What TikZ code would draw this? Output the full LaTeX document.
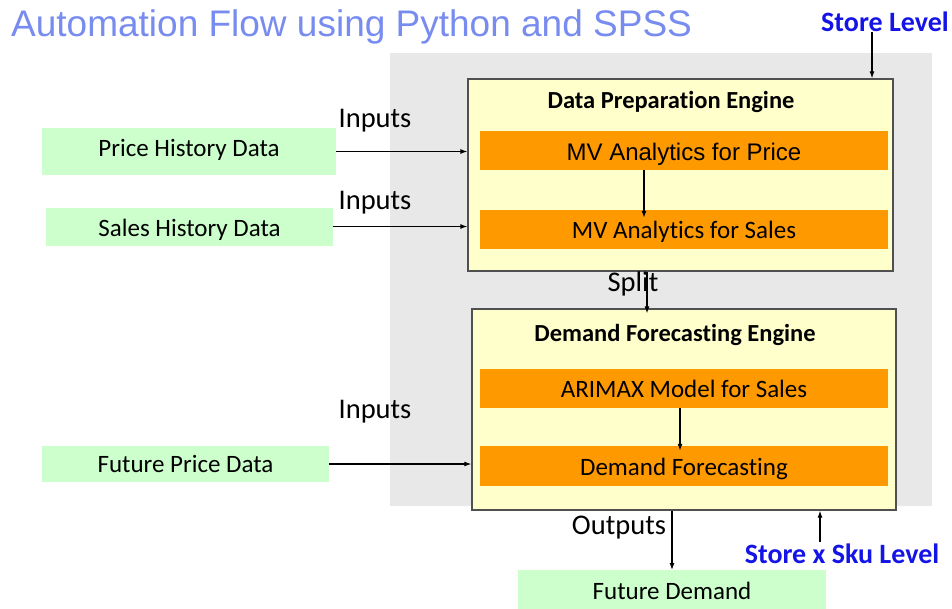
\documentclass[tikz,border=0pt]{standalone}
\usepackage{fontspec}
\setmainfont[Ligatures=NoCommon]{Carlito}
\newfontfamily\arialf{Liberation Sans}
\usetikzlibrary{arrows.meta}
\definecolor{titleblue}{RGB}{120,140,240}
\definecolor{lvlblue}{RGB}{20,20,230}
\definecolor{bggrey}{RGB}{232,232,232}
\definecolor{engyellow}{RGB}{255,255,204}
\definecolor{orangebar}{RGB}{255,153,0}
\definecolor{datagreen}{RGB}{204,255,204}
\definecolor{edgegrey}{RGB}{80,80,80}
\tikzset{
  datanode/.style={fill=datagreen, draw=none, inner sep=0pt, text height=16pt, text depth=0pt, font=\fontsize{25}{29}\selectfont},
  engine/.style={fill=engyellow, draw=edgegrey, line width=1.3pt, inner sep=0pt},
  bar/.style={fill=orangebar, draw=none, inner sep=0pt, minimum width=408pt, minimum height=39pt, text height=18pt, text depth=0pt, font=\fontsize{25}{29}\selectfont},
  lbl/.style={inner sep=0pt, font=\fontsize{25}{29}\selectfont},
  biglbl/.style={inner sep=0pt, font=\fontsize{28.5}{32}\selectfont},
  enginetitle/.style={inner sep=0pt, font=\bfseries\fontsize{24.5}{28}\selectfont},
  level/.style={inner sep=0pt, text=lvlblue, font=\bfseries\fontsize{28}{32}\selectfont},
  arr/.style={-{Latex[length=7pt,width=5pt]}, line width=1.1pt, black}
}
\begin{document}
\begin{tikzpicture}[x=1pt,y=-1pt]
\useasboundingbox (0,0) rectangle (952,608);
% title
\node[anchor=west, inner sep=0pt, text=titleblue, font=\arialf\fontsize{37}{42}\selectfont] (title) at (11,27) {Automation Flow using Python and SPSS};
% grey background
\fill[bggrey] (390,53) rectangle (932,506);
% engines
\node[engine, minimum width=425pt, minimum height=192pt] (dpe) at (680.5,175) {};
\node[enginetitle] (dpet) at (671,102) {Data Preparation Engine};
\node[bar, text height=19pt, font=\arialf\fontsize{24}{28}\selectfont] (mvp) at (684,150.5) {MV Analytics for Price};
\node[bar] (mvs) at (684,229.5) {MV Analytics for Sales};
\node[engine, minimum width=424pt, minimum height=201pt] (dfe) at (684,409.5) {};
\node[enginetitle] (dfet) at (675,335) {Demand Forecasting Engine};
\node[bar] (arx) at (684,388.5) {ARIMAX Model for Sales};
\node[bar, minimum height=40pt] (dfc) at (684,466) {Demand Forecasting};
% data nodes
\node[datanode, text depth=7pt, minimum width=294pt, minimum height=47pt] (phd) at (189,151.5) {Price History Data};
\node[datanode, text height=18pt, minimum width=287pt, minimum height=38pt] (shd) at (189.5,227) {Sales History Data};
\node[datanode, minimum width=287pt, minimum height=36pt] (fpd) at (185.5,464) {Future Price Data};
\node[datanode, minimum width=308pt, minimum height=44pt, anchor=north] (fdm) at (672,570) {};
\node[lbl] (fdmt) at (672,591) {Future Demand};
% labels
\node[biglbl] (in1) at (375,121) {Inputs};
\node[biglbl] (in2) at (375,203) {Inputs};
\node[biglbl] (in3) at (375,412) {Inputs};
\node[biglbl] (split) at (633,284) {Split};
\node[biglbl] (outp) at (619,528) {Outputs};
\node[level] (sl) at (885,22) {Store Level};
\node[level] (ssl) at (842,554) {Store x Sku Level};
% coordinates
\coordinate (xsl) at (872,0);
\coordinate (xsplit) at (647,0);
\coordinate (xout) at (672,0);
\coordinate (xssl) at (820,0);
\coordinate (xmv) at (644,0);
\coordinate (xar) at (680,0);
% connectors
\draw[arr] (phd.east) -- (phd.east -| dpe.west);
\draw[arr] ([yshift=0.5pt]shd.east) -- ([yshift=0.5pt]shd.east -| dpe.west);
\draw[arr] (fpd.east) -- (fpd.east -| dfe.west);
\draw[arr] (sl.south -| xsl) -- (dpe.north -| xsl);
\draw[arr] (mvp.south -| xmv) -- ([yshift=-8pt]mvs.north -| xmv);
\draw[arr] (dpe.south -| xsplit) -- ([yshift=-5pt]dfe.north -| xsplit);
\draw[arr] (arx.south -| xar) -- ([yshift=-5pt]dfc.north -| xar);
\draw[arr] (dfe.south -| xout) -- (fdm.north -| xout);
\draw[arr] ([yshift=2pt]ssl.north -| xssl) -- (dfe.south -| xssl);
\end{tikzpicture}
\end{document}
